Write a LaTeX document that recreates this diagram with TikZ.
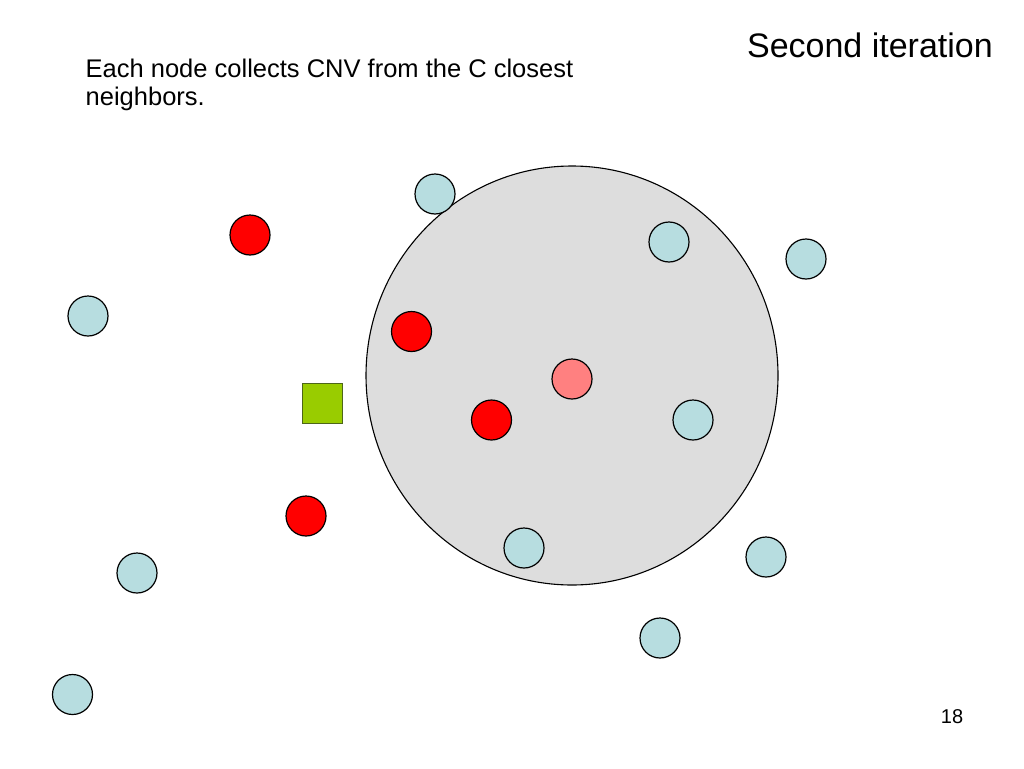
\documentclass[tikz,border=0pt]{standalone}
\usepackage{fontspec}
\setmainfont{Liberation Sans}
\usetikzlibrary{shapes.geometric}
\begin{document}
\begin{tikzpicture}[x=1pt,y=-1pt,
  dot/.style={circle,draw=black,line width=1.2pt,minimum size=40pt,inner sep=0pt},
  bluedot/.style={dot,fill=nodeblue},
  reddot/.style={dot,fill=red},
  pinkdot/.style={dot,fill=nodepink},
]
\definecolor{nodeblue}{HTML}{B7DDE0}
\definecolor{nodepink}{HTML}{FF8080}
\definecolor{areagrey}{HTML}{DDDDDD}
\definecolor{sqgreen}{HTML}{99CC00}
\definecolor{sqborder}{HTML}{4D6619}
\useasboundingbox[fill=white] (0,0) rectangle (1024,768);
% coverage area
\node[ellipse,draw=black,fill=areagrey,line width=1.1pt,minimum width=412pt,minimum height=419pt,inner sep=0pt] (area) at (572,375.5) {};
% titles
\node[anchor=base east,inner sep=0pt,font=\fontsize{34}{39}\selectfont] (title) at (993,58) {Second iteration};
\node[anchor=north west,inner sep=0pt,align=left,font=\fontsize{25.5}{27.5}\selectfont] (desc) at (85.5,59) {Each node collects CNV from the C closest\\neighbors.};
\node[anchor=base,inner sep=0pt,font=\fontsize{20}{24}\selectfont] (page) at (952,723) {18};
% square
\node[draw=sqborder,fill=sqgreen,line width=1.2pt,minimum size=40pt,inner sep=0pt] (sq) at (322.5,403.5) {};
% nodes
\node[bluedot] (b1) at (435,194) {};
\node[reddot] (r1) at (250,235) {};
\node[bluedot] (b2) at (669,242) {};
\node[bluedot] (b3) at (806,259) {};
\node[bluedot] (b4) at (88,316) {};
\node[reddot] (r2) at (411.5,331.5) {};
\node[pinkdot] (p1) at (572,379) {};
\node[reddot] (r3) at (491.5,420) {};
\node[bluedot] (b5) at (693,420) {};
\node[reddot] (r4) at (306,516) {};
\node[bluedot] (b6) at (524,548) {};
\node[bluedot] (b7) at (766,557) {};
\node[bluedot] (b8) at (137,573) {};
\node[bluedot] (b9) at (660,638) {};
\node[bluedot] (b10) at (72.5,694.5) {};
\end{tikzpicture}
\end{document}
